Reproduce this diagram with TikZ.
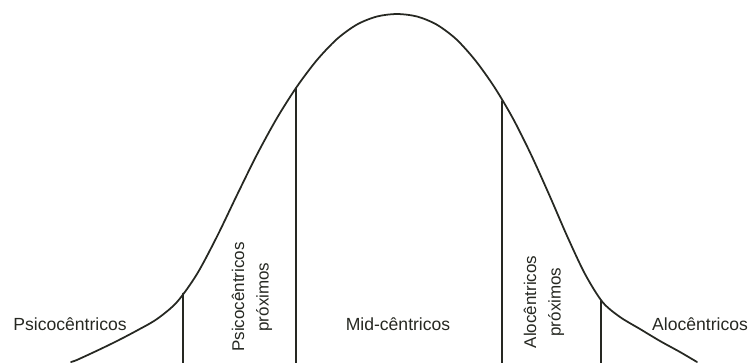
\documentclass[tikz,border=0pt]{standalone}
\usepackage{fontspec}
\setmainfont{Liberation Sans}
\usetikzlibrary{calc}
\definecolor{tinta}{RGB}{38,40,34}

\begin{document}
\begin{tikzpicture}[x=0.03cm, y=-0.03cm, line cap=round, line join=round,
  rotulo/.style={font=\fontsize{15}{18}\selectfont, text=tinta, inner sep=0pt},
  rotulov/.style={rotulo, rotate=90, align=center, font=\fontsize{14.5}{21}\selectfont}]
  \useasboundingbox (0,0) rectangle (749,363);
  % --- Pontos ---
  \coordinate (base) at (0,363);
  \coordinate (P1) at (183,293.5); % limite psico / psico proximos
  \coordinate (P2) at (296,88);    % limite psico proximos / mid
  \coordinate (P3) at (502,101);   % limite mid / alo proximos
  \coordinate (P4) at (601,300.5); % limite alo proximos / alo

  % --- Linha de base ---
  \draw[tinta, line width=0.8pt] (33,363.2) -- (745,363.2);

  % --- Curva ---
  \draw[tinta, line width=1.5pt] plot[smooth, tension=0.5] coordinates {
    (71,362) (77,359.9) (97,350.7) (117,341) (137,330.5) (157,319) (177,302)
    (197,274) (217,236.5) (237,195) (257,154.5) (277,118) (297,86.5) (317,60)
    (337,39) (357,24.5) (377,16.5) (397,14) (417,16.5) (436.5,24.5) (456,39)
    (475,60) (494,86.5) (512.7,118) (531,154.5) (549.3,195) (567.3,236.5)
    (585,274) (602.5,302) (620,317) (640,329) (660,341) (680,352) (697,362)};

  % --- Divisoes ---
  \foreach \p in {P1,P2,P3,P4} \draw[tinta, line width=1.3pt] (\p) -- (\p |- base);

  % --- Rotulos ---
  \node[rotulo, anchor=base] (psico) at (70,330) {Psicocêntricos};
  \node[rotulov] (psicoprox) at (252,297) {Psicocêntricos\\próximos};
  \node[rotulo, anchor=base] (mid) at (398,330) {Mid-cêntricos};
  \node[rotulov] (aloprox) at (544,302) {Alocêntricos\\próximos};
  \node[rotulo, anchor=base] (alo) at (700,330) {Alocêntricos};
\end{tikzpicture}
\end{document}
